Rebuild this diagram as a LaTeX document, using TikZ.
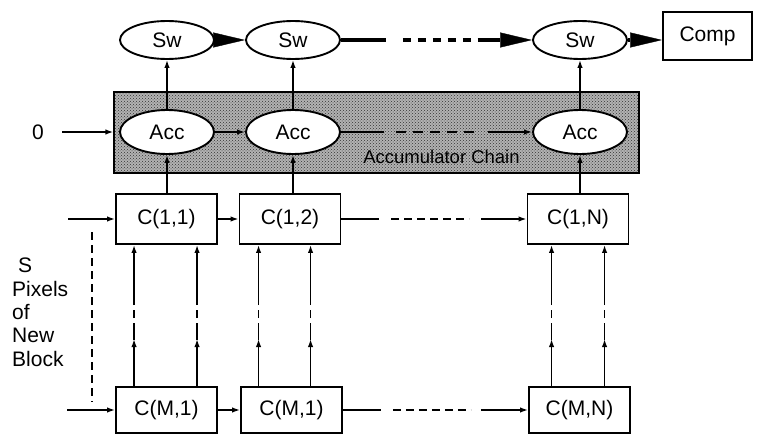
\documentclass[tikz,border=0pt]{standalone}
\usepackage{fontspec}
\setmainfont{Liberation Sans}
\usetikzlibrary{arrows.meta,calc,patterns,shapes.geometric}
\begin{document}
\begin{tikzpicture}[x=1pt,y=-1pt,
  every node/.style={font=\fontsize{21}{23.3}\selectfont},
  ell/.style={ellipse, draw, line width=1.9pt, fill=white, minimum width=94pt, minimum height=38pt, inner sep=0pt},
  box/.style={rectangle, draw, line width=1.9pt, fill=white, minimum width=101pt, minimum height=50pt, inner sep=0pt},
  arr/.style={line width=1.5pt, -{Latex[length=8pt,width=5.5pt]}},
  ln/.style={line width=1.5pt},
  dsh/.style={line width=1.5pt, dash pattern=on 8pt off 5pt},
  thk/.style={line width=3.8pt},
  big/.style={line width=3.8pt, -{Triangle[length=32pt,width=15pt,line width=0.4pt]}},
]
\useasboundingbox (0,0) rectangle (757,436);

% accumulator chain background
\node[draw, line width=1.2pt, minimum width=525pt, minimum height=81pt, inner sep=0pt,
      preaction={fill=black!30}, pattern=crosshatch dots, pattern color=black!80] (chain) at (376.5,132.5) {};
\node[font=\fontsize{18.5}{20}\selectfont] (lab) at (441.5,157) {Accumulator Chain};

% switches
\node[ell] (sw1) at (167,40) {Sw};
\node[ell] (sw2) at (293,40) {Sw};
\node[ell] (sw3) at (580,40) {Sw};
\node[box, minimum width=89pt, minimum height=48pt] (comp) at (707.5,36) {Comp};

% accumulators
\node[ell, minimum height=44pt] (acc1) at (167,132) {Acc};
\node[ell, minimum height=44pt] (acc2) at (293,132) {Acc};
\node[ell, minimum height=44pt] (acc3) at (580,132) {Acc};
\node (zero) at (38,132) {0};

% cells
\node[box] (c11) at (166.5,219) {C(1,1)};
\node[box] (c12) at (290,219) {C(1,2)};
\node[box] (c1N) at (578,219) {C(1,N)};
\node[box, minimum height=46pt] (cM1) at (166.5,410) {C(M,1)};
\node[box, minimum height=46pt] (cM2) at (291.5,410) {C(M,1)};
\node[box, minimum height=46pt] (cMN) at (579.5,410) {C(M,N)};

\node[anchor=north west, align=left, inner sep=0pt] (txt) at (12,258)
  {\hspace*{6pt}S\\Pixels\\of\\New\\Block};

% switch chain
\draw[big] (sw1.east) -- (sw2.west);
\draw[thk] (sw2.east) -- ($(sw2.east)+(45,0)$);
\draw[thk, dash pattern=on 8pt off 7pt] ($(sw2.east)+(62,0)$) -- ($(sw2.east)+(137,0)$);
\draw[big] ($(sw2.east)+(137,0)$) -- (sw3.west);
\draw[big] (sw3.east) -- (comp.west |- sw3);

% acc -> sw
\draw[arr] (acc1.north) -- (sw1.south);
\draw[arr] (acc2.north) -- (sw2.south);
\draw[arr] (acc3.north) -- (sw3.south);

% accumulator chain
\draw[arr] ($(zero.east)+(15,0)$) -- (chain.west |- acc1);
\draw[arr] (acc1.east) -- (acc2.west);
\draw[ln] (acc2.east) -- ($(acc2.east)+(43,0)$);
\draw[ln, dash pattern=on 10pt off 7pt] ($(acc2.east)+(55,0)$) -- ($(acc2.east)+(137,0)$);
\draw[arr] ($(acc2.east)+(147,0)$) -- (acc3.west);

% cells -> acc
\draw[arr] (c11.north -| acc1) -- (acc1.south);
\draw[arr] (c12.north -| acc2) -- (acc2.south);
\draw[arr] (c1N.north -| acc3) -- (acc3.south);

% row inputs
\coordinate (in1) at (68,219);
\coordinate (in2) at (67,410);
\draw[arr] (in1) -- (c11.west);
\draw[arr] (in2) -- (cM1.west);
\coordinate (d1) at (92,232);
\coordinate (d2) at (92,402);
\draw[dsh] (d1) -- (d2);

% rows
\draw[arr] (c11.east) -- (c12.west);
\draw[ln] (c12.east) -- ($(c12.east)+(38,0)$);
\draw[dsh] ($(c12.east)+(50,0)$) -- ($(c12.east)+(128,0)$);
\draw[arr] ($(c12.east)+(140,0)$) -- (c1N.west);

\draw[arr] (cM1.east) -- (cM2.west);
\draw[ln] (cM2.east) -- ($(cM2.east)+(38,0)$);
\draw[dsh] ($(cM2.east)+(50,0)$) -- ($(cM2.east)+(128,0)$);
\draw[arr] ($(cM2.east)+(138,0)$) -- (cMN.west);

% columns
\foreach \t/\b/\dx in {c11/cM1/19, c11/cM1/82, c12/cM2/20, c12/cM2/72, c1N/cMN/25, c1N/cMN/78}{
  \coordinate (u) at ($(\t.south west)+(\dx,0)$);
  \coordinate (l) at (u |- \b.north);
  \draw[arr] (l) -- ($(l)+(0,-47)$);
  \draw[ln] ($(l)+(0,-46)$) -- ($(l)+(0,-55)$);
  \draw[dsh] ($(l)+(0,-55)$) -- ($(u)+(0,52)$);
  \draw[arr] ($(u)+(0,52)$) -- (u);
}
\end{tikzpicture}
\end{document}
